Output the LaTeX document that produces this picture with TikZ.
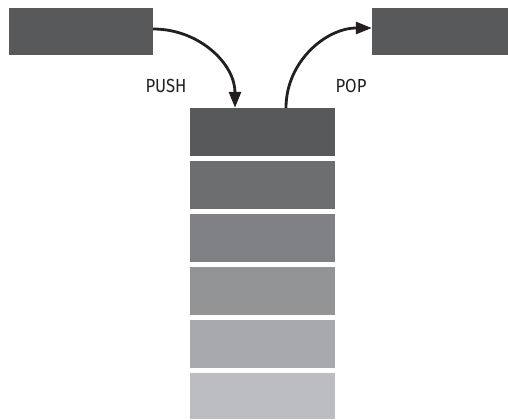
\documentclass[tikz,border=0pt]{standalone}
\usepackage{fontspec}
\setmainfont[FakeStretch=0.88]{Fira Sans}
\usetikzlibrary{arrows.meta}
\definecolor{cA}{HTML}{58595B}
\definecolor{cB}{HTML}{6D6E70}
\definecolor{cC}{HTML}{808184}
\definecolor{cD}{HTML}{939496}
\definecolor{cE}{HTML}{A7A9AC}
\definecolor{cF}{HTML}{BCBDC0}
\definecolor{arr}{HTML}{231F20}
\tikzset{
  blk/.style={draw=none, inner sep=0pt, minimum width=#1},
  stk/.style={draw=none, inner sep=0pt, minimum width=145bp, minimum height=48bp},
  flow/.style={draw=arr, line width=2.8bp, -{Triangle[length=16bp,width=12bp]}},
  lbl/.style={font=\fontsize{19}{22}\selectfont, text=arr, inner sep=0pt}
}
\begin{document}
\begin{tikzpicture}[x=1bp,y=-1bp]
\useasboundingbox (0,0) rectangle (508,419);
\node[blk=144bp, minimum height=47bp, fill=cA] (L) at (81,31.5) {};
\node[blk=136bp, minimum height=47bp, fill=cA] (R) at (440,31.5) {};
\node[stk, fill=cA] (s1) at (262.5,132) {};
\node[stk, fill=cB] (s2) at (262.5,185) {};
\node[stk, fill=cC] (s3) at (262.5,238) {};
\node[stk, fill=cD] (s4) at (262.5,291) {};
\node[stk, fill=cE] (s5) at (262.5,344) {};
\node[stk, fill=cF, minimum height=46bp] (s6) at (262.5,396) {};
\coordinate (pushA) at ([yshift=2.5bp]L.east);
\coordinate (pushB) at ([xshift=-27.5bp]s1.north);
\coordinate (popA) at ([xshift=23.5bp]s1.north);
\coordinate (popB) at ([yshift=3.5bp]R.west);
\draw[flow] (pushA) .. controls ([xshift=46bp]pushA) and ([yshift=44bp]pushB) .. (pushB);
\draw[flow] (popA) .. controls ([yshift=46bp]popA) and ([xshift=-46bp]popB) .. (popB);
\node[lbl] (push) at (166,86) {PUSH};
\node[lbl] (pop) at (351,86) {POP};
\end{tikzpicture}
\end{document}
